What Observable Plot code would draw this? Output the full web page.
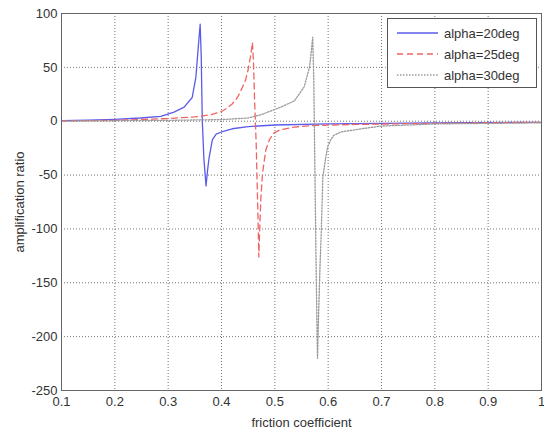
<!DOCTYPE html>
<html>
<head>
<meta charset="utf-8">
<script src="https://cdn.jsdelivr.net/npm/d3@7"></script>
<script src="https://cdn.jsdelivr.net/npm/@observablehq/plot@0.6"></script>
<style>
  html, body { margin: 0; padding: 0; background: #fff; }
  #wrap { position: relative; width: 544px; height: 431px; font-family: "Liberation Sans", Arial, sans-serif; }
  #legend { position: absolute; left: 387px; top: 18px; width: 150px; height: 70px; border: 1px solid #555; background: #fff; box-sizing: border-box; }
  #legend .row { position: absolute; left: 0; height: 16px; display: flex; align-items: center; }
  #legend .row span { font-size: 13px; color: #333; margin-left: 4px; }
</style>
</head>
<body>
<div id="wrap"><div id="legend"></div></div>
<script>
const seriesNames = ["alpha=20deg", "alpha=25deg", "alpha=30deg"];
const seriesColors = ["#5b5bea", "#f06464", "#9a9a9a"];
const seriesDash = ["none", "6,4", "1.5,1.5"];

const xTicks = [0.1, 0.2, 0.3, 0.4, 0.5, 0.6, 0.7, 0.8, 0.9, 1];
const yTicks = [100, 50, 0, -50, -100, -150, -200, -250];

// alpha = 20deg
const x20 = [0.10, 0.15, 0.20, 0.248, 0.286, 0.311, 0.330, 0.345, 0.352, 0.356, 0.360, 0.362, 0.364, 0.367, 0.371, 0.374, 0.377, 0.383, 0.390, 0.400, 0.420, 0.450, 0.500, 0.600, 0.800, 1.000];
const y20 = [0.5, 1, 1.8, 3, 4.5, 8.5, 13, 22, 41, 66, 90, 60, 0, -35, -60, -45, -33, -17, -12, -10, -7, -5, -3.5, -2.5, -1.5, -1];

// alpha = 25deg
const x25 = [0.10, 0.20, 0.30, 0.35, 0.38, 0.40, 0.41, 0.42, 0.43, 0.436, 0.445, 0.450, 0.455, 0.458, 0.460, 0.462, 0.465, 0.468, 0.470, 0.472, 0.474, 0.477, 0.483, 0.490, 0.498, 0.510, 0.536, 0.570, 0.650, 0.800, 1.000];
const y25 = [0.2, 0.8, 2.5, 4, 6, 9, 12, 16, 22, 28, 38, 48, 62, 73, 55, 20, -20, -80, -126, -95, -70, -48, -27, -17, -11, -8, -5.5, -4, -3, -2, -1];

// alpha = 30deg
const x30 = [0.10, 0.30, 0.40, 0.45, 0.474, 0.511, 0.537, 0.555, 0.565, 0.568, 0.571, 0.573, 0.575, 0.577, 0.579, 0.580, 0.582, 0.585, 0.587, 0.590, 0.595, 0.599, 0.605, 0.611, 0.624, 0.662, 0.700, 0.800, 1.000];
const y30 = [0.1, 0.8, 1.5, 3, 6, 13, 19, 32, 50, 63, 78, 40, -40, -120, -190, -220, -180, -130, -104, -52, -35, -24, -17, -13, -10, -7, -4.5, -2.5, -1.5];

const xs = [x20, x25, x30];
const ys = [y20, y25, y30];
const data = seriesNames.map((name, i) => xs[i].map((x, j) => ({x, y: ys[i][j], name})));

const chart = Plot.plot({
  width: 544,
  height: 431,
  marginLeft: 61,
  marginRight: 3,
  marginTop: 13,
  marginBottom: 41,
  style: {fontFamily: "'Liberation Sans', Arial, sans-serif", fontSize: "13px", color: "#333", background: "white"},
  x: {domain: [0.1, 1]},
  y: {domain: [-250, 100]},
  marks: [
    Plot.gridX(xTicks, {stroke: "#666", strokeOpacity: 0.9, strokeDasharray: "1,2"}),
    Plot.gridY(yTicks, {stroke: "#666", strokeOpacity: 0.9, strokeDasharray: "1,2"}),
    ...data.map((d, i) => Plot.line(d, {x: "x", y: "y", stroke: seriesColors[i], strokeWidth: 1.3, strokeDasharray: seriesDash[i] === "none" ? null : seriesDash[i]})),
    Plot.frame({stroke: "#666"}),
    Plot.axisX(xTicks, {tickSize: 0, tickPadding: 6, tickFormat: d => String(+d.toFixed(1)), fontSize: 13,
      label: "friction coefficient", labelAnchor: "center", labelArrow: "none", labelOffset: 36}),
    Plot.axisY(yTicks, {tickSize: 0, tickPadding: 4, tickFormat: d => String(d), fontSize: 13,
      label: "amplification ratio", labelAnchor: "center", labelArrow: "none", labelOffset: 47})
  ]
});
document.getElementById("wrap").prepend(chart);

const legend = document.getElementById("legend");
seriesNames.forEach((name, i) => {
  const row = document.createElement("div");
  row.className = "row";
  row.style.top = (6 + i * 21) + "px";
  const svg = d3.create("svg").attr("width", 52).attr("height", 16);
  svg.append("line").attr("x1", 9).attr("x2", 50).attr("y1", 8).attr("y2", 8)
    .attr("stroke", seriesColors[i]).attr("stroke-width", 1.3)
    .attr("stroke-dasharray", seriesDash[i] === "none" ? null : seriesDash[i]);
  row.appendChild(svg.node());
  const span = document.createElement("span");
  span.textContent = name;
  row.appendChild(span);
  legend.appendChild(row);
});
</script>
</body>
</html>
